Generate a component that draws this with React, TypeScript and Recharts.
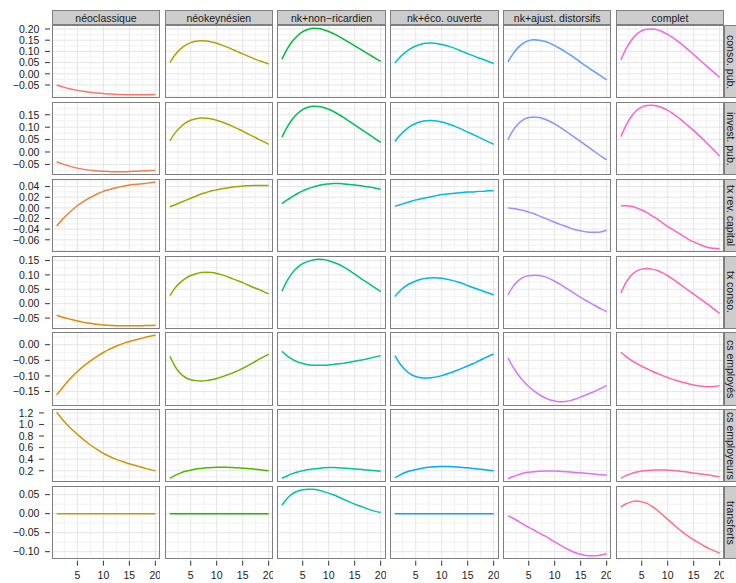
import React from "react";
import { LineChart, Line, XAxis, YAxis, CartesianGrid } from "recharts";

const quarters = [1, 2, 3, 4, 5, 6, 7, 8, 9, 10, 11, 12, 13, 14, 15, 16, 17, 18, 19, 20];

const models = [
  "néoclassique",
  "néokeynésien",
  "nk+non−ricardien",
  "nk+éco. ouverte",
  "nk+ajust. distorsifs",
  "complet",
];

const shocks = [
  "conso. pub.",
  "invest. pub.",
  "tx rev. capital",
  "tx conso.",
  "cs employés",
  "cs employeurs",
  "transferts",
];

// one list per model (same order as `models`), quarters 1..20
const consoPub = [
  [-0.05, -0.057, -0.064, -0.069, -0.074, -0.078, -0.081, -0.084, -0.086, -0.088, -0.09, -0.091, -0.092, -0.093, -0.093, -0.094, -0.093, -0.093, -0.093, -0.092],
  [0.05, 0.085, 0.11, 0.128, 0.139, 0.145, 0.147, 0.146, 0.142, 0.136, 0.128, 0.119, 0.109, 0.099, 0.089, 0.079, 0.069, 0.06, 0.052, 0.044],
  [0.065, 0.11, 0.145, 0.17, 0.188, 0.198, 0.203, 0.202, 0.197, 0.189, 0.178, 0.166, 0.153, 0.139, 0.125, 0.111, 0.097, 0.083, 0.069, 0.055],
  [0.048, 0.075, 0.096, 0.112, 0.124, 0.132, 0.136, 0.137, 0.135, 0.131, 0.125, 0.118, 0.109, 0.099, 0.09, 0.081, 0.072, 0.064, 0.055, 0.046],
  [0.053, 0.09, 0.118, 0.137, 0.148, 0.152, 0.15, 0.145, 0.137, 0.126, 0.113, 0.099, 0.084, 0.068, 0.051, 0.035, 0.019, 0.004, -0.012, -0.027],
  [0.062, 0.112, 0.15, 0.176, 0.192, 0.199, 0.2, 0.196, 0.188, 0.176, 0.161, 0.145, 0.126, 0.106, 0.086, 0.065, 0.045, 0.024, 0.004, -0.016],
];

const investPub = [
  [-0.039, -0.047, -0.054, -0.06, -0.065, -0.069, -0.072, -0.075, -0.077, -0.078, -0.079, -0.08, -0.08, -0.08, -0.079, -0.078, -0.077, -0.076, -0.075, -0.074],
  [0.045, 0.077, 0.1, 0.117, 0.128, 0.134, 0.137, 0.136, 0.133, 0.128, 0.121, 0.113, 0.104, 0.094, 0.084, 0.073, 0.063, 0.052, 0.042, 0.031],
  [0.06, 0.1, 0.132, 0.155, 0.171, 0.18, 0.184, 0.183, 0.179, 0.172, 0.162, 0.15, 0.137, 0.123, 0.109, 0.095, 0.081, 0.067, 0.053, 0.039],
  [0.042, 0.068, 0.088, 0.104, 0.115, 0.122, 0.126, 0.127, 0.125, 0.121, 0.115, 0.108, 0.099, 0.09, 0.08, 0.071, 0.061, 0.051, 0.041, 0.031],
  [0.049, 0.088, 0.114, 0.13, 0.139, 0.141, 0.139, 0.133, 0.124, 0.113, 0.1, 0.086, 0.071, 0.057, 0.042, 0.027, 0.012, -0.003, -0.018, -0.032],
  [0.062, 0.108, 0.143, 0.167, 0.181, 0.187, 0.188, 0.185, 0.178, 0.168, 0.155, 0.14, 0.122, 0.104, 0.086, 0.067, 0.047, 0.026, 0.005, -0.016],
];

const txRevCapital = [
  [-0.034, -0.023, -0.013, -0.004, 0.004, 0.011, 0.017, 0.022, 0.027, 0.031, 0.034, 0.037, 0.039, 0.041, 0.043, 0.044, 0.045, 0.046, 0.047, 0.048],
  [0.002, 0.006, 0.01, 0.014, 0.018, 0.022, 0.026, 0.029, 0.032, 0.034, 0.036, 0.0375, 0.039, 0.04, 0.041, 0.0415, 0.042, 0.042, 0.042, 0.042],
  [0.008, 0.015, 0.021, 0.027, 0.032, 0.036, 0.039, 0.042, 0.044, 0.045, 0.046, 0.046, 0.045, 0.044, 0.043, 0.042, 0.04, 0.039, 0.037, 0.035],
  [0.003, 0.006, 0.009, 0.012, 0.015, 0.017, 0.019, 0.021, 0.023, 0.025, 0.026, 0.027, 0.028, 0.029, 0.03, 0.03, 0.031, 0.031, 0.032, 0.032],
  [0.0, -0.001, -0.003, -0.005, -0.008, -0.011, -0.015, -0.019, -0.023, -0.027, -0.031, -0.034, -0.038, -0.041, -0.043, -0.045, -0.046, -0.046, -0.045, -0.042],
  [0.004, 0.004, 0.003, 0.0, -0.004, -0.009, -0.015, -0.021, -0.028, -0.035, -0.041, -0.047, -0.053, -0.059, -0.064, -0.068, -0.072, -0.075, -0.076, -0.077],
];

const txConso = [
  [-0.04, -0.046, -0.051, -0.056, -0.06, -0.064, -0.067, -0.07, -0.072, -0.074, -0.075, -0.076, -0.077, -0.077, -0.077, -0.077, -0.077, -0.076, -0.076, -0.075],
  [0.028, 0.055, 0.074, 0.088, 0.098, 0.104, 0.108, 0.109, 0.108, 0.105, 0.1, 0.094, 0.087, 0.08, 0.073, 0.065, 0.057, 0.05, 0.042, 0.034],
  [0.043, 0.08, 0.107, 0.126, 0.139, 0.147, 0.152, 0.154, 0.153, 0.149, 0.143, 0.136, 0.126, 0.115, 0.103, 0.09, 0.078, 0.066, 0.054, 0.042],
  [0.025, 0.045, 0.06, 0.071, 0.079, 0.085, 0.088, 0.09, 0.09, 0.088, 0.085, 0.081, 0.076, 0.07, 0.063, 0.056, 0.05, 0.043, 0.037, 0.03],
  [0.03, 0.06, 0.08, 0.092, 0.097, 0.099, 0.098, 0.094, 0.087, 0.078, 0.068, 0.057, 0.045, 0.033, 0.022, 0.011, 0.001, -0.009, -0.019, -0.028],
  [0.037, 0.075, 0.099, 0.113, 0.12, 0.122, 0.12, 0.115, 0.107, 0.097, 0.085, 0.072, 0.059, 0.046, 0.033, 0.02, 0.007, -0.006, -0.02, -0.034],
];

const csEmployes = [
  [-0.161, -0.14, -0.12, -0.102, -0.086, -0.071, -0.058, -0.046, -0.035, -0.025, -0.016, -0.008, -0.001, 0.005, 0.01, 0.015, 0.019, 0.023, 0.027, 0.03],
  [-0.037, -0.07, -0.092, -0.105, -0.112, -0.115, -0.116, -0.115, -0.112, -0.108, -0.103, -0.097, -0.091, -0.084, -0.076, -0.067, -0.058, -0.048, -0.039, -0.03],
  [-0.021, -0.036, -0.047, -0.055, -0.06, -0.064, -0.066, -0.066, -0.066, -0.065, -0.063, -0.061, -0.059, -0.056, -0.053, -0.05, -0.047, -0.043, -0.039, -0.035],
  [-0.035, -0.062, -0.081, -0.094, -0.102, -0.106, -0.107, -0.106, -0.103, -0.099, -0.094, -0.088, -0.082, -0.075, -0.068, -0.061, -0.053, -0.045, -0.037, -0.03],
  [-0.042, -0.072, -0.097, -0.117, -0.134, -0.148, -0.16, -0.169, -0.176, -0.18, -0.183, -0.182, -0.179, -0.174, -0.167, -0.161, -0.154, -0.147, -0.139, -0.13],
  [-0.024, -0.038, -0.05, -0.06, -0.069, -0.077, -0.085, -0.092, -0.099, -0.105, -0.111, -0.116, -0.121, -0.125, -0.129, -0.132, -0.134, -0.135, -0.134, -0.131],
];

const csEmployeurs = [
  [1.21, 1.1, 1.0, 0.91, 0.83, 0.75, 0.68, 0.615, 0.555, 0.5, 0.455, 0.415, 0.38, 0.35, 0.32, 0.295, 0.27, 0.245, 0.22, 0.2],
  [0.07, 0.12, 0.16, 0.19, 0.21, 0.23, 0.24, 0.25, 0.255, 0.26, 0.26, 0.26, 0.255, 0.25, 0.245, 0.24, 0.23, 0.22, 0.21, 0.2],
  [0.07, 0.11, 0.15, 0.18, 0.2, 0.22, 0.23, 0.24, 0.25, 0.255, 0.255, 0.25, 0.245, 0.24, 0.23, 0.225, 0.215, 0.21, 0.2, 0.19],
  [0.08, 0.13, 0.17, 0.2, 0.22, 0.24, 0.255, 0.265, 0.27, 0.275, 0.275, 0.27, 0.265, 0.255, 0.25, 0.24, 0.23, 0.22, 0.21, 0.2],
  [0.06, 0.1, 0.13, 0.16, 0.175, 0.185, 0.19, 0.195, 0.195, 0.195, 0.19, 0.185, 0.18, 0.17, 0.165, 0.155, 0.15, 0.14, 0.13, 0.125],
  [0.07, 0.12, 0.15, 0.18, 0.195, 0.205, 0.21, 0.215, 0.215, 0.21, 0.205, 0.195, 0.185, 0.175, 0.16, 0.15, 0.135, 0.125, 0.11, 0.095],
];

const transferts = [
  [0, 0, 0, 0, 0, 0, 0, 0, 0, 0, 0, 0, 0, 0, 0, 0, 0, 0, 0, 0],
  [0, 0, 0, 0, 0, 0, 0, 0, 0, 0, 0, 0, 0, 0, 0, 0, 0, 0, 0, 0],
  [0.022, 0.04, 0.052, 0.059, 0.063, 0.064, 0.064, 0.062, 0.058, 0.054, 0.049, 0.043, 0.037, 0.031, 0.025, 0.02, 0.015, 0.01, 0.006, 0.003],
  [0, 0, 0, 0, 0, 0, 0, 0, 0, 0, 0, 0, 0, 0, 0, 0, 0, 0, 0, 0],
  [-0.005, -0.012, -0.02, -0.028, -0.036, -0.043, -0.051, -0.058, -0.066, -0.074, -0.082, -0.09, -0.097, -0.103, -0.107, -0.11, -0.111, -0.111, -0.109, -0.105],
  [0.017, 0.026, 0.031, 0.033, 0.031, 0.027, 0.019, 0.009, -0.003, -0.015, -0.027, -0.039, -0.05, -0.06, -0.069, -0.077, -0.085, -0.092, -0.098, -0.104],
];

const responses = [consoPub, investPub, txRevCapital, txConso, csEmployes, csEmployeurs, transferts];

const yTicks = [
  [-0.05, 0, 0.05, 0.1, 0.15, 0.2],
  [-0.05, 0, 0.05, 0.1, 0.15],
  [-0.06, -0.04, -0.02, 0, 0.02, 0.04],
  [-0.05, 0, 0.05, 0.1, 0.15],
  [-0.15, -0.1, -0.05, 0],
  [0.2, 0.4, 0.6, 0.8, 1.0, 1.2],
  [-0.1, -0.05, 0, 0.05],
];
const yDigits = [2, 2, 2, 2, 2, 1, 2];
const xTicks = [5, 10, 15, 20];

// layout
const FONT = "'Liberation Sans', Arial, Helvetica, sans-serif";
const W = 736;
const LEFT0 = 51.7;
const COL_STEP = 112.8;
const PANEL_W = 108.6;
const TOP0 = 25.3;
const ROW_STEP = 76.78;
const PANEL_H = 73.2;
const STRIP = 15;
const XAXIS_H = 24;
const axisShift = [0, 0, 0, 0, 0, 6, 0];

// ggplot-like hue palette
function hcl(h: number, c = 100, l = 65) {
  const hr = (h * Math.PI) / 180;
  const U = c * Math.cos(hr);
  const V = c * Math.sin(hr);
  const Y = Math.pow((l + 16) / 116, 3);
  const u = U / (13 * l) + 0.1978398;
  const v = V / (13 * l) + 0.4683363;
  const X = (9 * Y * u) / (4 * v);
  const Z = (Y * (12 - 3 * u - 20 * v)) / (4 * v);
  const lin = [
    3.240479 * X - 1.53715 * Y - 0.498535 * Z,
    -0.969256 * X + 1.875992 * Y + 0.041556 * Z,
    0.055648 * X - 0.204043 * Y + 1.057311 * Z,
  ];
  return (
    "#" +
    lin
      .map((t) => {
        const g = t <= 0.0031308 ? 12.92 * t : 1.055 * Math.pow(t, 1 / 2.4) - 0.055;
        return Math.round(Math.max(0, Math.min(1, g)) * 255)
          .toString(16)
          .padStart(2, "0");
      })
      .join("")
  );
}
const nColors = models.length * shocks.length;
const colorFor = (r: number, c: number) => hcl(15 + (360 * (c * shocks.length + r)) / nColors);

const expand = (vals: number[]) => {
  const lo = Math.min(...vals);
  const hi = Math.max(...vals);
  const pad = (hi - lo) * 0.05;
  return [lo - pad, hi + pad];
};

const minorOf = (ticks: number[], dom: number[]) => {
  const step = ticks[1] - ticks[0];
  const ext = [ticks[0] - step, ...ticks, ticks[ticks.length - 1] + step];
  const out: number[] = [ext[0], ext[ext.length - 1]];
  for (let i = 0; i < ext.length - 1; i++) out.push(ext[i] + step / 2);
  return out.filter((v) => v > dom[0] && v < dom[1]);
};

const fmt = (v: number, d: number) => v.toFixed(d).replace("-", "−");

const xDomain = expand(quarters);
const xMinor = minorOf(xTicks, xDomain);

const panelLeft = (c: number) => LEFT0 + c * COL_STEP;
const panelTop = (r: number) => TOP0 + r * ROW_STEP;

function YTick(props: any) {
  const { x, y, payload, row } = props;
  const s = axisShift[row];
  return (
    <g>
      <line x1={x - 6.7 - s} x2={x - 1.7 - s} y1={y} y2={y} stroke="#333" strokeWidth={1} />
      <text x={x - 12.4 - s} y={y} dy="0.36em" textAnchor="end" fontSize={10.5} fill="#1a1a1a" fontFamily={FONT}>
        {fmt(payload.value, yDigits[row])}
      </text>
    </g>
  );
}

function XTick(props: any) {
  const { x, y, payload } = props;
  return (
    <g>
      <line x1={x} x2={x} y1={y + 1.5} y2={y + 6.5} stroke="#333" strokeWidth={1} />
      <text x={x} y={y + 15.7} dy="0.36em" textAnchor="middle" fontSize={10.5} fill="#1a1a1a" fontFamily={FONT}>
        {payload.value}
      </text>
    </g>
  );
}

function Panel({ r, c }: { r: number; c: number }) {
  const series = responses[r][c];
  const data = quarters.map((q, i) => ({ q, v: series[i] }));
  const yDomain = expand(responses[r].flat());
  const yMajor = yTicks[r];
  const yMinor = minorOf(yMajor, yDomain);
  const showY = c === 0;
  const showX = r === shocks.length - 1;
  const left = showY ? 0 : panelLeft(c);
  const width = showY ? LEFT0 + PANEL_W : PANEL_W;
  const height = PANEL_H + (showX ? XAXIS_H : 0);

  return (
    <div style={{ position: "absolute", left, top: panelTop(r), width, height }}>
      <LineChart width={width} height={height} data={data} margin={{ top: 0, right: 0, bottom: 0, left: 0 }}>
        <CartesianGrid stroke="#F3F3F3" strokeWidth={1.2} horizontalValues={yMinor} verticalValues={xMinor} />
        <CartesianGrid stroke="#E5E5E5" strokeWidth={1} horizontalValues={yMajor} verticalValues={xTicks} />
        <XAxis
          dataKey="q"
          type="number"
          domain={xDomain}
          ticks={xTicks}
          interval={0}
          hide={!showX}
          height={XAXIS_H}
          tickSize={0}
          tickMargin={0}
          axisLine={false}
          tickLine={false}
          tick={(p: any) => <XTick {...p} />}
          allowDataOverflow
        />
        <YAxis
          type="number"
          domain={yDomain}
          ticks={yMajor}
          interval={0}
          hide={!showY}
          width={LEFT0}
          tickSize={0}
          tickMargin={0}
          axisLine={false}
          tickLine={false}
          tick={(p: any) => <YTick {...p} row={r} />}
          allowDataOverflow
        />
        <Line
          type="monotone"
          dataKey="v"
          stroke={colorFor(r, c)}
          strokeWidth={1.5}
          dot={false}
          activeDot={false}
          isAnimationActive={false}
        />
      </LineChart>
      <div
        style={{
          position: "absolute",
          left: showY ? LEFT0 : 0,
          top: 0,
          width: PANEL_W,
          height: PANEL_H,
          border: "1px solid #7f7f7f",
          boxSizing: "border-box",
          pointerEvents: "none",
        }}
      />
    </div>
  );
}

export default function App() {
  const stripLeft = panelLeft(models.length - 1) + PANEL_W;
  return (
    <div
      style={{
        position: "absolute",
        left: 0,
        top: 0,
        width: W,
        height: 583,
        background: "#fff",
        overflow: "hidden",
        fontFamily: FONT,
      }}
    >
      {models.map((m, c) => (
        <div
          key={m}
          style={{
            position: "absolute",
            left: panelLeft(c),
            top: TOP0 - STRIP,
            width: PANEL_W,
            height: STRIP,
            background: "#cccccc",
            border: "1px solid #7f7f7f",
            boxSizing: "border-box",
            display: "flex",
            alignItems: "center",
            justifyContent: "center",
            fontSize: 10.5,
            color: "#1a1a1a",
            whiteSpace: "nowrap",
          }}
        >
          {m}
        </div>
      ))}
      {shocks.map((s, r) => (
        <div
          key={s}
          style={{
            position: "absolute",
            left: stripLeft,
            top: panelTop(r),
            width: W - stripLeft,
            height: PANEL_H,
            background: "#cccccc",
            borderTop: "1px solid #7f7f7f",
            borderBottom: "1px solid #7f7f7f",
            borderLeft: "1px solid #7f7f7f",
            boxSizing: "border-box",
            display: "flex",
            alignItems: "center",
            justifyContent: "center",
            fontSize: 10.5,
            color: "#1a1a1a",
            whiteSpace: "nowrap",
            overflow: "hidden",
          }}
        >
          <span style={{ writingMode: "vertical-rl", lineHeight: 1 }}>{s}</span>
        </div>
      ))}
      {responses.map((row, r) => row.map((_, c) => <Panel key={`${r}-${c}`} r={r} c={c} />))}
    </div>
  );
}
